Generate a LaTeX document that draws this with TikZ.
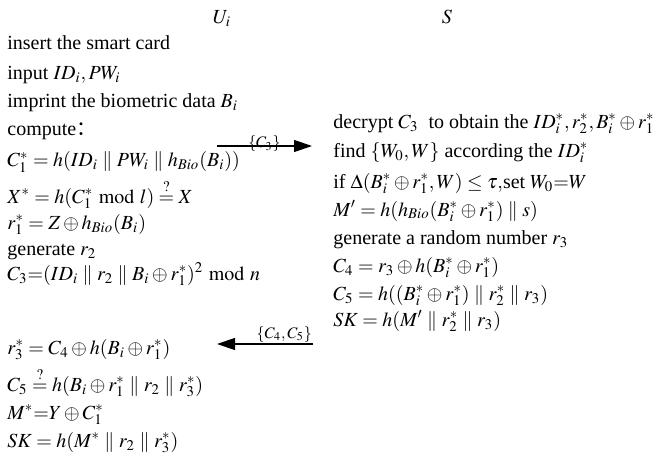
\documentclass[tikz,border=0pt]{standalone}
\usepackage{mathptmx}
\usepackage{fontspec}
\setmainfont{Liberation Serif}
\newfontfamily\cjk{Noto Sans CJK SC}
\usetikzlibrary{arrows.meta,positioning}

\begin{document}
\begin{tikzpicture}[x=0.5pt,y=-0.5pt,
    party/.style={anchor=base,inner sep=0pt},
    stepline/.style={anchor=base west,inner sep=0pt},
    msglabel/.style={inner sep=0pt,font=\fontsize{8}{10}\selectfont},
    msgarrow/.style={line width=0.6pt,-{Triangle[length=9pt,width=6pt]}}]
  \useasboundingbox (0,0) rectangle (664,476);
  % participants
  \node[party] (ui) at (222,24) {$U_i$};
  \node[party] (srv) at (447,24) {$S$};
  % user side
  \node[stepline] (u1)  at (7,50)  {insert the smart card};
  \node[stepline] (u2)  at (7,80)  {input $ID_i, PW_i$};
  \node[stepline] (u3)  at (7,108) {imprint the biometric data $B_i$};
  \node[stepline] (u4)  at (7,136) {compute{\cjk ：}};
  \node[stepline] (u5)  at (7,167) {$C_1^* = h(ID_i \parallel PW_i \parallel h_{Bio}(B_i))$};
  \node[stepline] (u6)  at (7,203) {$X^* = h(C_1^* \bmod l)\stackrel{?}{=}X$};
  \node[stepline] (u7)  at (7,229) {$r_1^* = Z \oplus h_{Bio}(B_i)$};
  \node[stepline] (u8)  at (7,255) {generate $r_2$};
  \node[stepline] (u9)  at (7,280) {$C_3{=}(ID_i \parallel r_2 \parallel B_i \oplus r_1^*)^2 \bmod n$};
  \node[stepline] (u10) at (7,354) {$r_3^* = C_4 \oplus h(B_i \oplus r_1^*)$};
  \node[stepline] (u11) at (7,391) {$C_5 \stackrel{?}{=} h(B_i \oplus r_1^* \parallel r_2 \parallel r_3^*)$};
  \node[stepline] (u12) at (7,419) {$M^*{=}Y \oplus C_1^*$};
  \node[stepline] (u13) at (7,447) {$SK = h(M^* \parallel r_2 \parallel r_3^*)$};
  % server side
  \node[stepline] (s1) at (333,128) {decrypt $C_3$ \ to obtain the $ID_i^*, r_2^*, B_i^* \oplus r_1^*$};
  \node[stepline] (s2) at (333,157) {find $\{W_0, W\}$ according the $ID_i^*$};
  \node[stepline] (s3) at (333,188) {if $\Delta(B_i^* \oplus r_1^*, W) \le \tau,$set $W_0{=}W$};
  \node[stepline] (s4) at (333,216) {$M' = h(h_{Bio}(B_i^* \oplus r_1^*) \parallel s)$};
  \node[stepline] (s5) at (333,244) {generate a random number $r_3$};
  \node[stepline] (s6) at (333,272) {$C_4 = r_3 \oplus h(B_i^* \oplus r_1^*)$};
  \node[stepline] (s7) at (333,300) {$C_5 = h((B_i^* \oplus r_1^*) \parallel r_2^* \parallel r_3)$};
  \node[stepline] (s8) at (333,326) {$SK = h(M' \parallel r_2^* \parallel r_3)$};
  % messages
  \coordinate (m1from) at (217,146);
  \coordinate (m1to)   at (312,146);
  \coordinate (m2from) at (313,344);
  \coordinate (m2to)   at (217,344);
  \draw[msgarrow] (m1from) -- (m1to)
    node[msglabel,midway,anchor=base,yshift=-1pt] (m1) {$\{C_3\}$};
  \draw[msgarrow] (m2from) -- (m2to)
    node[msglabel,pos=0.3,anchor=base,yshift=3pt] (m2) {$\{C_4, C_5\}$};
\end{tikzpicture}
\end{document}
